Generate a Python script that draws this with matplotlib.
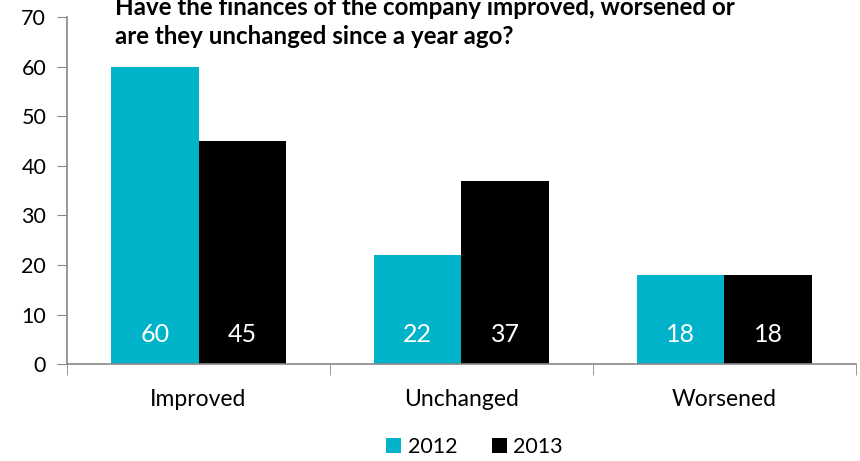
import matplotlib.pyplot as plt
import numpy as np

plt.rcParams['font.family'] = ['Lato', 'DejaVu Sans']

categories = ['Improved', 'Unchanged', 'Worsened']
years = ['2012', '2013']
values_2012 = [60, 22, 18]
values_2013 = [45, 37, 18]
colors = ['#00B3C8', '#000000']

fig = plt.figure(figsize=(8.6, 4.61), dpi=100)
ax = fig.add_axes([0.078, 0.21, 0.917, 0.753])

x = np.arange(len(categories))
w = 1 / 3
bars1 = ax.bar(x - w / 2, values_2012, w, color=colors[0], label=years[0])
bars2 = ax.bar(x + w / 2, values_2013, w, color=colors[1], label=years[1])

# value labels sit low inside each bar
for bars, vals in [(bars1, values_2012), (bars2, values_2013)]:
    for b, v in zip(bars, vals):
        ax.text(b.get_x() + b.get_width() / 2, 6.0, str(v), color='white',
                ha='center', va='center', fontsize=18)

ax.set_xlim(-0.5, len(categories) - 0.5)
ax.set_ylim(0, 70)
ax.set_yticks(range(0, 71, 10))
ax.set_xticks(x)
ax.set_xticklabels(categories, fontsize=16.5)
ax.tick_params(axis='x', length=0, pad=18)
ax.set_xticks(np.arange(-0.5, len(categories)), minor=True)
ax.tick_params(axis='x', which='minor', length=8, color='#888888', direction='out')
ax.tick_params(axis='y', labelsize=15.5, length=7, color='#888888', pad=8)

for s in ['top', 'right']:
    ax.spines[s].set_visible(False)
for s in ['left', 'bottom']:
    ax.spines[s].set_color('#888888')
    ax.spines[s].set_linewidth(1.2)

fig.text(0.134, 0.953, 'Have the finances of the company improved, worsened or\nare they unchanged since a year ago?',
         fontsize=17.4, fontweight='bold', ha='left', va='center', linespacing=1.3)

fig.legend(handles=[bars1, bars2], labels=years, loc='center', bbox_to_anchor=(0.552, 0.03),
           ncol=2, frameon=False, fontsize=15.5, handlelength=0.7, handleheight=0.7,
           handletextpad=0.3, columnspacing=1.6)

fig.savefig('out.png', dpi=100)
